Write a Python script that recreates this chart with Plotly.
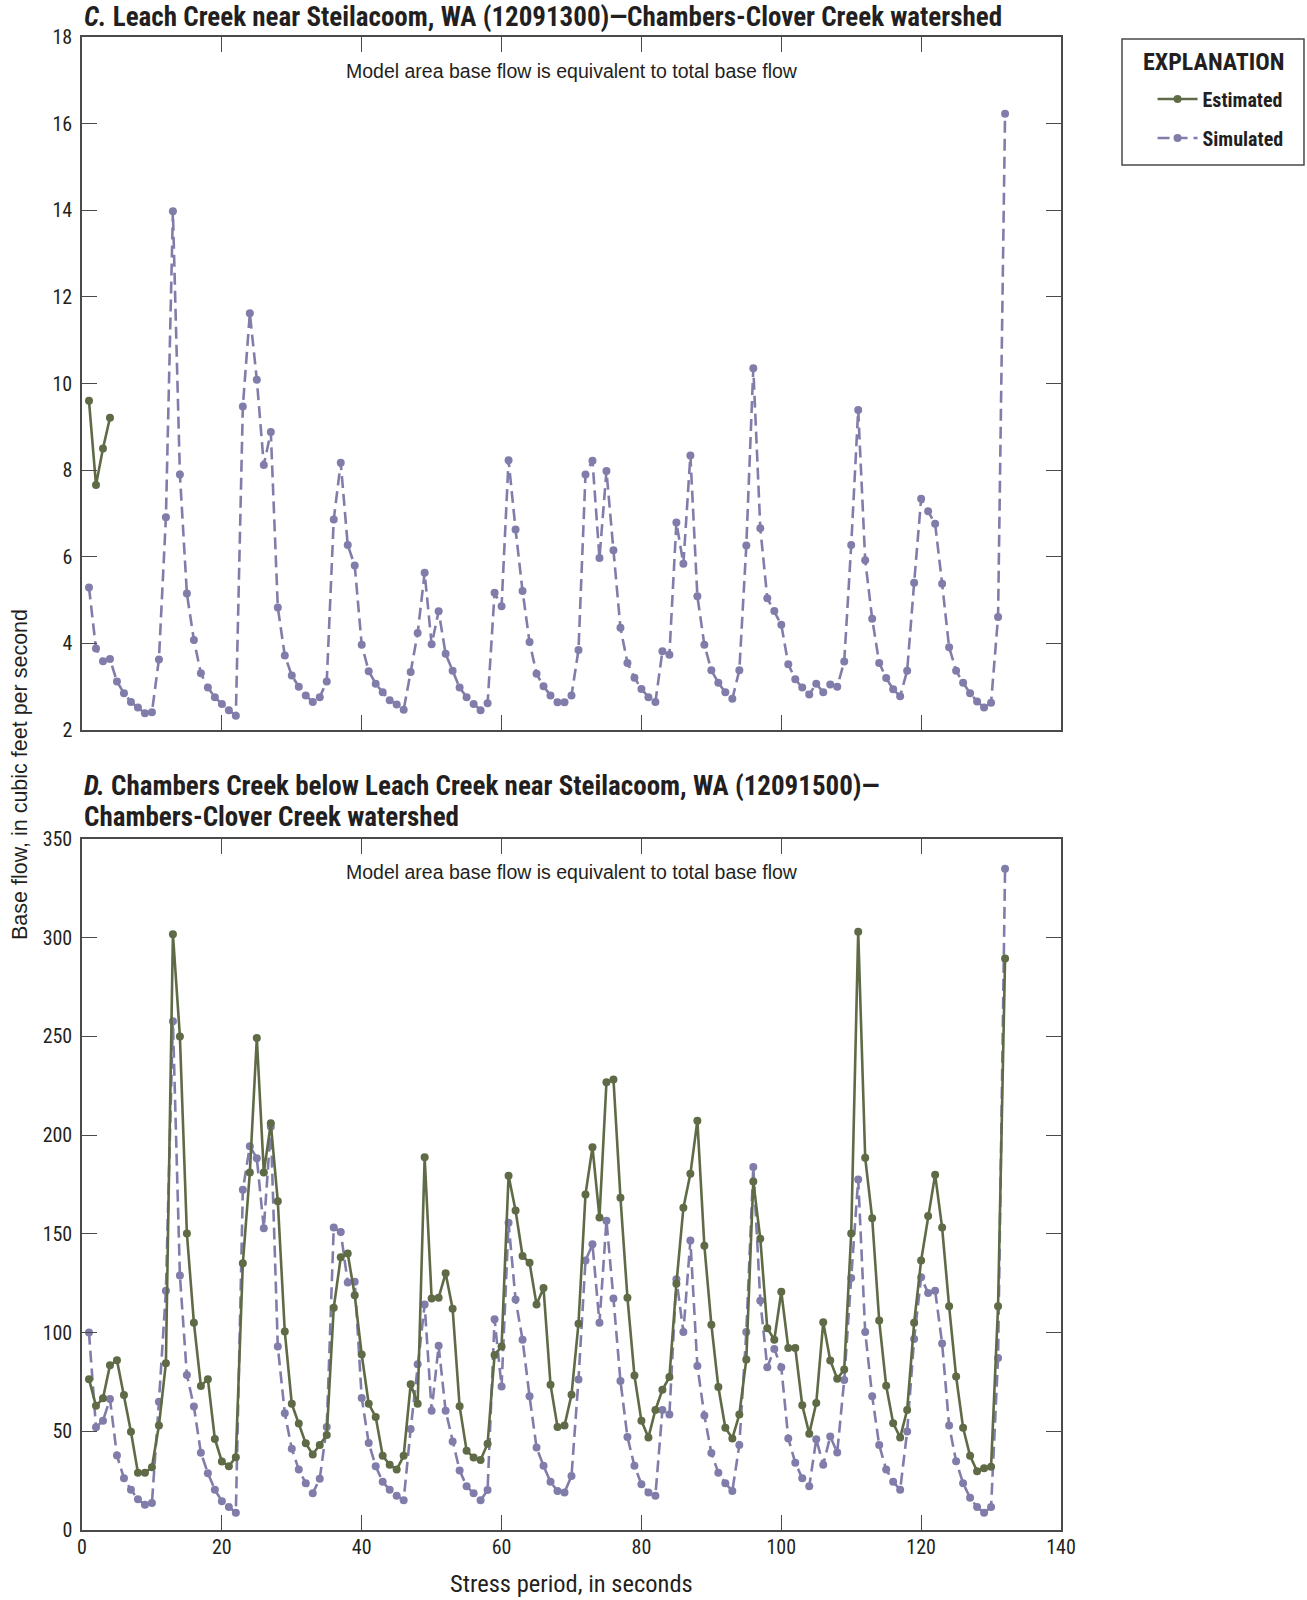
import plotly.graph_objects as go

# Stress periods (x) shared by both panels
periods = list(range(1, 133))

# Panel C: Leach Creek near Steilacoom (12091300), base flow in ft3/s
leach_estimated_periods = [1, 2, 3, 4]
leach_estimated = [9.6, 7.66, 8.5, 9.21]
leach_simulated = [
    5.29, 3.88, 3.59, 3.64, 3.12, 2.85, 2.65, 2.52, 2.39, 2.41,
    3.63, 6.91, 13.98, 7.9, 5.15, 4.08, 3.31, 2.98, 2.76, 2.6,
    2.46, 2.33, 9.47, 11.62, 10.09, 8.12, 8.88, 4.83, 3.72, 3.26,
    3.0, 2.8, 2.65, 2.76, 3.12, 6.86, 8.17, 6.27, 5.8, 3.97,
    3.36, 3.07, 2.87, 2.69, 2.59, 2.47, 3.34, 4.24, 5.63, 3.98,
    4.74, 3.76, 3.37, 2.98, 2.76, 2.6, 2.46, 2.62, 5.17, 4.86,
    8.23, 6.63, 5.21, 4.03, 3.3, 3.01, 2.8, 2.64, 2.64, 2.8,
    3.85, 7.9, 8.22, 5.97, 7.98, 6.15, 4.36, 3.55, 3.21, 2.95,
    2.76, 2.65, 3.82, 3.74, 6.79, 5.84, 8.34, 5.09, 3.97, 3.38,
    3.09, 2.87, 2.72, 3.38, 6.26, 10.35, 6.66, 5.04, 4.75, 4.43,
    3.52, 3.17, 2.98, 2.82, 3.07, 2.87, 3.05, 3.0, 3.58, 6.27,
    9.39, 5.92, 4.57, 3.55, 3.2, 2.94, 2.78, 3.37, 5.4, 7.34,
    7.05, 6.76, 5.38, 3.91, 3.37, 3.09, 2.85, 2.66, 2.52, 2.63,
    4.61, 16.23,
]

# Panel D: Chambers Creek below Leach Creek (12091500), base flow in ft3/s
chambers_estimated = [
    76.4, 62.9, 66.7, 83.5, 86.0, 68.4, 49.8, 29.0, 29.0, 31.8,
    52.9, 84.5, 301.8, 250.0, 150.2, 105.0, 73.0, 76.4, 46.1, 34.7,
    32.3, 36.9, 135.1, 181.1, 249.2, 181.1, 206.0, 166.5, 100.5, 63.9,
    53.9, 43.9, 38.3, 43.0, 48.1, 112.6, 138.1, 140.0, 118.9, 88.9,
    63.9, 57.3, 37.6, 33.0, 30.6, 37.6, 73.8, 63.9, 188.8, 117.3,
    117.7, 130.0, 112.1, 62.7, 40.2, 36.7, 35.5, 43.7, 88.7, 92.9,
    179.5, 161.8, 138.8, 135.4, 114.2, 122.6, 73.6, 52.2, 52.9, 68.5,
    104.5, 170.0, 193.9, 158.3, 226.8, 228.2, 168.3, 117.7, 78.2, 55.3,
    46.9, 60.8, 71.0, 77.5, 124.7, 163.2, 180.4, 207.3, 144.0, 104.0,
    72.4, 51.8, 46.4, 58.5, 86.4, 176.5, 147.5, 102.2, 96.4, 120.7,
    92.2, 92.2, 63.2, 48.8, 64.3, 105.2, 85.9, 76.6, 81.3, 150.2,
    303.0, 188.5, 157.9, 106.1, 73.1, 54.1, 46.9, 60.8, 105.0, 136.5,
    159.0, 180.0, 153.2, 113.3, 77.8, 51.8, 37.6, 29.7, 31.3, 32.0,
    113.3, 289.5,
]
chambers_simulated = [
    100.0, 52.0, 55.4, 66.3, 37.7, 26.2, 20.4, 15.6, 12.8, 13.7,
    65.0, 121.2, 257.7, 128.9, 78.5, 62.5, 39.1, 28.8, 20.4, 14.6,
    11.6, 8.8, 172.3, 194.4, 188.3, 152.8, 204.3, 92.9, 59.2, 41.1,
    30.6, 23.7, 18.6, 26.0, 52.2, 153.2, 150.9, 125.4, 125.8, 66.9,
    44.1, 32.3, 24.4, 20.4, 17.4, 15.1, 51.1, 84.0, 114.2, 60.4,
    93.3, 60.4, 44.8, 30.2, 22.1, 18.6, 15.1, 20.2, 106.8, 72.7,
    155.6, 116.8, 96.4, 67.8, 41.8, 32.5, 24.4, 19.7, 19.0, 27.4,
    76.2, 136.5, 144.7, 105.0, 156.7, 117.3, 75.5, 47.1, 32.5, 23.2,
    19.0, 17.4, 60.8, 58.5, 127.0, 100.3, 146.7, 83.1, 58.0, 39.0,
    29.0, 23.7, 19.7, 43.0, 100.3, 183.9, 116.1, 82.4, 91.7, 82.4,
    46.4, 34.1, 26.2, 22.1, 46.0, 33.0, 47.4, 39.3, 76.0, 127.7,
    177.6, 100.3, 67.8, 43.0, 30.6, 24.4, 20.4, 49.9, 96.8, 128.0,
    120.0, 121.2, 94.5, 52.9, 34.8, 23.7, 16.3, 11.6, 8.8, 11.6,
    87.1, 335.0,
]

x_ticks = [0, 20, 40, 60, 80, 100, 120, 140]
leach_y_ticks = [2, 4, 6, 8, 10, 12, 14, 16, 18]
chambers_y_ticks = [0, 50, 100, 150, 200, 250, 300, 350]

GREEN = "#5f6b46"
PURPLE = "#817daa"
FRAME = "#4a4a4a"
INK = "#231f20"
NARROW = "Liberation Sans Narrow, Roboto Condensed, Arial Narrow, sans-serif"
REGULAR = "Liberation Sans, Arial, sans-serif"

est_style = dict(mode="lines+markers", line=dict(color=GREEN, width=2.6),
                 marker=dict(color=GREEN, size=8))
sim_style = dict(mode="lines+markers", line=dict(color=PURPLE, width=2.6, dash="12px,6px"),
                 marker=dict(color=PURPLE, size=8))

fig = go.Figure()

# Panel C traces
fig.add_trace(go.Scatter(x=periods, y=leach_simulated, name="Simulated", xaxis="x", yaxis="y",
                         showlegend=False, legendgroup="sim", **sim_style))
fig.add_trace(go.Scatter(x=leach_estimated_periods, y=leach_estimated, name="Estimated", xaxis="x",
                         yaxis="y", showlegend=False, legendgroup="est", **est_style))

# Panel D traces
fig.add_trace(go.Scatter(x=periods, y=chambers_simulated, name="Simulated", xaxis="x2", yaxis="y2",
                         legendgroup="sim", legendrank=2, **sim_style))
fig.add_trace(go.Scatter(x=periods, y=chambers_estimated, name="Estimated", xaxis="x2", yaxis="y2",
                         legendgroup="est", legendrank=1, **est_style))

axis_common = dict(showline=True, linecolor=FRAME, linewidth=1.5, mirror="ticks",
                   ticks="inside", ticklen=15, tickwidth=1.3, tickcolor=FRAME,
                   showgrid=False, zeroline=False,
                   tickfont=dict(family=NARROW, size=20, color=INK))

fig.update_layout(
    width=1307, height=1600,
    margin=dict(l=82, r=246, t=37, b=70),
    plot_bgcolor="white", paper_bgcolor="white",
    xaxis=dict(domain=[0, 1], range=[0, 140], tickvals=x_ticks, showticklabels=False,
               anchor="y", **axis_common),
    yaxis=dict(domain=[0.5358, 1], range=[2, 18], tickvals=leach_y_ticks, anchor="x",
               ticklabelstandoff=4, **axis_common),
    xaxis2=dict(domain=[0, 1], range=[0, 140], tickvals=x_ticks, anchor="y2",
                ticklabelstandoff=-2, **axis_common),
    yaxis2=dict(domain=[0, 0.4628], range=[0, 350], tickvals=chambers_y_ticks, anchor="x2",
                ticklabelstandoff=4, **axis_common),
    legend=dict(
        x=1.0935, y=0.9715, xanchor="left", yanchor="top",
        borderwidth=0, bgcolor="rgba(0,0,0,0)",
        font=dict(family=NARROW, size=20, color=INK, weight="bold"),
        tracegroupgap=10, itemwidth=40,
    ),
    showlegend=True,
    # Frame around the explanation block
    shapes=[dict(type="rect", xref="paper", yref="paper",
                 x0=1.0623, x1=1.2482, y0=0.9143, y1=0.9987,
                 line=dict(color=FRAME, width=1.5), fillcolor="rgba(0,0,0,0)")],
)

annotations = [
    dict(text="<b><i>C.</i> Leach Creek near Steilacoom, WA (12091300)—Chambers-Clover Creek watershed</b>",
         x=0, y=1.0131, xanchor="left", yanchor="middle", font=dict(family=NARROW, size=27)),
    dict(text="<b><i>D.</i> Chambers Creek below Leach Creek near Steilacoom, WA (12091500)—</b>",
         x=0, y=0.4983, xanchor="left", yanchor="middle", font=dict(family=NARROW, size=27)),
    dict(text="<b>Chambers-Clover Creek watershed</b>",
         x=0, y=0.4776, xanchor="left", yanchor="middle", font=dict(family=NARROW, size=27)),
    dict(text="Model area base flow is equivalent to total base flow",
         x=0.5, y=0.9769, xanchor="center", yanchor="middle", font=dict(family=REGULAR, size=19.5)),
    dict(text="Model area base flow is equivalent to total base flow",
         x=0.5, y=0.4407, xanchor="center", yanchor="middle", font=dict(family=REGULAR, size=19.5)),
    dict(text="Base flow, in cubic feet per second", textangle=-90,
         x=-0.0633, y=0.5057, xanchor="center", yanchor="middle", font=dict(family=REGULAR, size=21.5)),
    dict(text="Stress period, in seconds",
         x=0.5, y=-0.0355, xanchor="center", yanchor="middle", font=dict(family=NARROW, size=24.5)),
    dict(text="<b>EXPLANATION</b>",
         x=1.1553, y=0.9833, xanchor="center", yanchor="middle", font=dict(family=NARROW, size=24)),
]
for a in annotations:
    a.update(xref="paper", yref="paper", showarrow=False)
    a["font"]["color"] = INK
fig.update_layout(annotations=annotations)

fig.write_html("out.html")
